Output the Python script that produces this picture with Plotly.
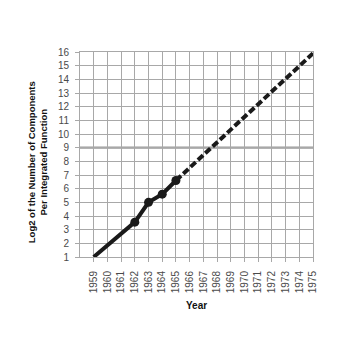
import plotly.graph_objects as go

years_actual = [1959, 1962, 1963, 1964, 1965]
log2_actual = [1.0, 3.55, 5.0, 5.6, 6.6]
years_proj = [1965, 1975]
log2_proj = [6.6, 15.9]
marker_years = [1962, 1963, 1964, 1965]
marker_vals = [3.55, 5.0, 5.6, 6.6]
x_ticks = list(range(1959, 1976))
y_ticks = list(range(1, 17))
ref_level = 9

FONT = "Liberation Sans, Arial, sans-serif"
GRID = "#a8a8a8"

fig = go.Figure()
fig.add_trace(go.Scatter(x=years_actual, y=log2_actual, mode="lines",
                         line=dict(color="#1a1a1a", width=4), showlegend=False))
fig.add_trace(go.Scatter(x=years_proj, y=log2_proj, mode="lines",
                         line=dict(color="#1a1a1a", width=4, dash="7px,3px"), showlegend=False))
fig.add_trace(go.Scatter(x=marker_years, y=marker_vals, mode="markers",
                         marker=dict(color="#1a1a1a", size=9), showlegend=False))
fig.add_hline(y=ref_level, line=dict(color="#9a9a9a", width=2.2), layer="below")

fig.update_xaxes(range=[1958, 1975], tickvals=x_ticks, ticktext=[str(v) for v in x_ticks],
                 tickangle=-90, showgrid=True, gridcolor=GRID, gridwidth=1,
                 showline=True, linecolor=GRID, linewidth=1, mirror=True,
                 ticks="outside", ticklen=4, tickcolor=GRID, ticklabelstandoff=5,
                 tickfont=dict(family=FONT, size=10, color="#4a4a4a"), zeroline=False)
fig.update_yaxes(range=[1, 16], tickvals=y_ticks, showgrid=True, gridcolor=GRID, gridwidth=1,
                 showline=True, linecolor=GRID, linewidth=1, mirror=True,
                 ticks="outside", ticklen=4, tickcolor=GRID, ticklabelstandoff=4,
                 tickfont=dict(family=FONT, size=10, color="#4a4a4a"), zeroline=False)

fig.add_annotation(text="<b>Log2 of the Number of Components<br>Per Integrated Function</b>",
                   xref="paper", yref="paper", x=-0.184, y=0.463, textangle=-90,
                   showarrow=False, font=dict(family=FONT, size=9.5, color="#111"),
                   xanchor="center", yanchor="middle")
fig.add_annotation(text="<b>Year</b>", xref="paper", yref="paper", x=0.5, y=-0.237,
                   showarrow=False, font=dict(family=FONT, size=10, color="#111"),
                   xanchor="center", yanchor="middle")

fig.update_layout(width=363, height=343, margin=dict(l=80, r=50, t=52, b=86),
                  plot_bgcolor="white", paper_bgcolor="white")
fig.write_html("out.html")
